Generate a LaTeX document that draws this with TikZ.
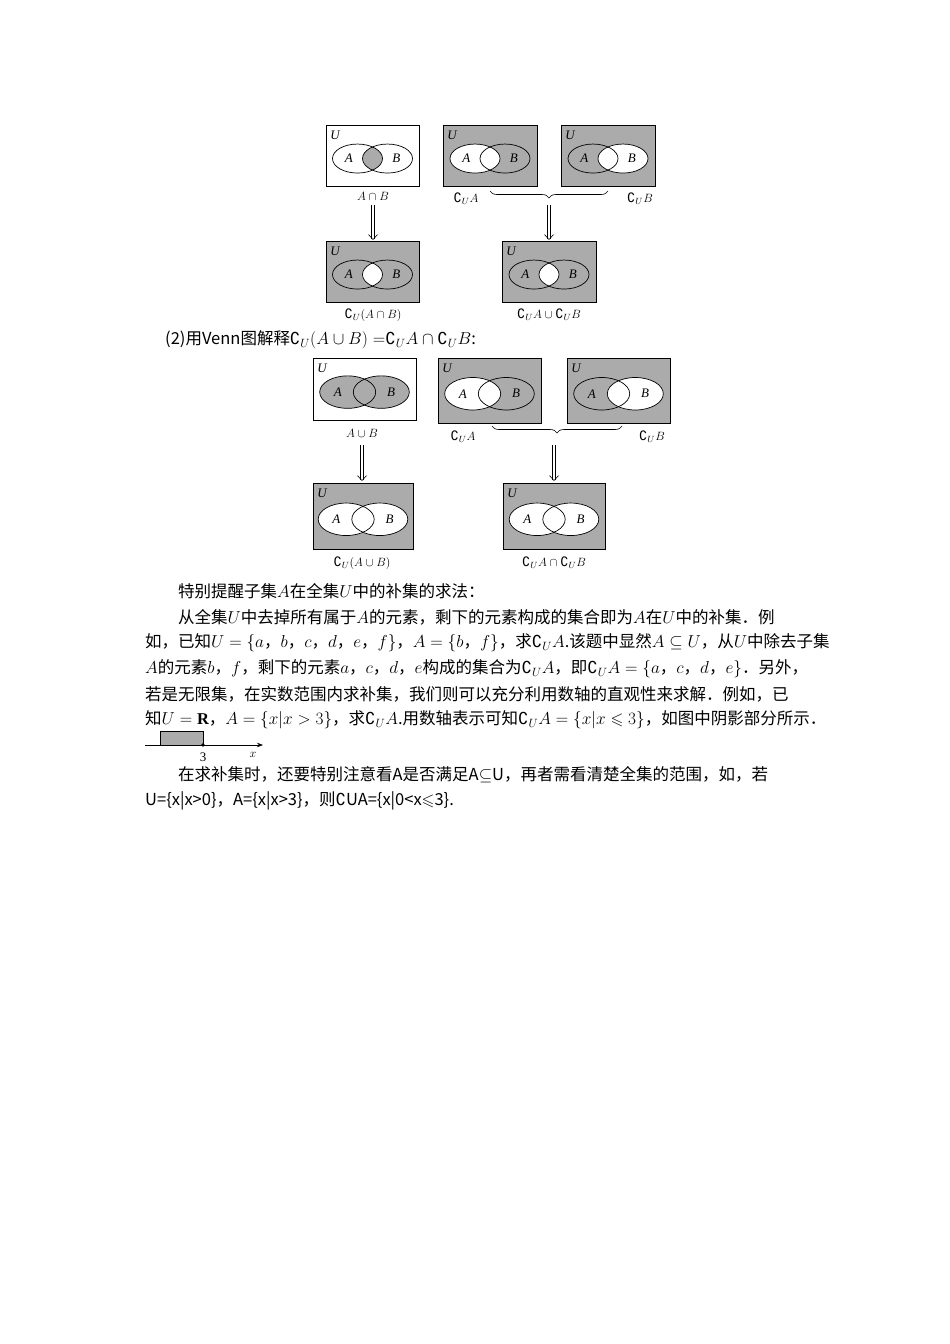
\documentclass[tikz,border=0pt]{standalone}
\usepackage{amssymb}
\usepackage{fontspec}
\setmainfont{Liberation Serif}
\newfontfamily\cjk{Noto Sans CJK SC}
\newfontfamily\djv{DejaVu Sans}
\usetikzlibrary{decorations.pathreplacing,arrows.meta}
\newcommand\cu{{\djv ∁}}
\newcommand\VB[9]{%
 \pgfmathsetmacro\xa{#1}\pgfmathsetmacro\ya{#2}\pgfmathsetmacro\ww{#3}\pgfmathsetmacro\hh{#4}
 \pgfmathsetmacro\rr{#9}\pgfmathsetmacro\ry{0.58*#9}\pgfmathsetmacro\dd{0.6*#9}
 \pgfmathsetmacro\cx{\xa+\ww/2}\pgfmathsetmacro\cy{\ya+0.55*\hh}
 \fill[#5] (\xa,\ya) rectangle ++(\ww,\hh);
 \draw[line width=0.8pt] (\xa,\ya) rectangle ++(\ww,\hh);
 \fill[#6] (\cx-\dd,\cy) ellipse [x radius=\rr pt,y radius=\ry pt];
 \fill[#7] (\cx+\dd,\cy) ellipse [x radius=\rr pt,y radius=\ry pt];
 \begin{scope}\clip (\cx-\dd,\cy) ellipse [x radius=\rr pt,y radius=\ry pt];
 \fill[#8] (\cx+\dd,\cy) ellipse [x radius=\rr pt,y radius=\ry pt];\end{scope}
 \draw[line width=0.7pt] (\cx-\dd,\cy) ellipse [x radius=\rr pt,y radius=\ry pt];
 \draw[line width=0.7pt] (\cx+\dd,\cy) ellipse [x radius=\rr pt,y radius=\ry pt];
 \node[font=\itshape\fontsize{13}{13}\selectfont] at (\xa+9,\ya+10) {U};
 \node[font=\itshape\fontsize{13}{13}\selectfont] at (\cx-\dd-0.35*\rr,\cy) {A};
 \node[font=\itshape\fontsize{13}{13}\selectfont] at (\cx+\dd+0.35*\rr,\cy) {B};
}
\tikzset{lab/.style={font=\fontsize{13}{13}\selectfont},
 txt/.style={anchor=west,inner sep=0pt,font=\cjk\fontsize{16.5}{16.5}\selectfont},
 dbl/.style={double,double distance=2.5pt,line width=0.6pt,-{Straight Barb[length=5pt,width=9pt]}},
 brc/.style={decorate,decoration={brace,amplitude=7pt,mirror},line width=0.6pt}}
\colorlet{sh}{black!33}
\begin{document}
\begin{tikzpicture}[x=1pt,y=-1pt]
\useasboundingbox (0,0) rectangle (950,1344);
\fill[white] (0,0) rectangle (950,1344);
% first set
\VB{326}{125}{93}{61}{white}{white}{white}{sh}{25}
\VB{443}{125}{94}{61}{sh}{white}{sh}{white}{25}
\VB{561}{125}{94}{61}{sh}{sh}{white}{white}{25}
\VB{326}{241}{93}{61}{sh}{sh}{sh}{white}{25}
\VB{502}{241}{94}{61}{sh}{sh}{sh}{white}{25}
\node[lab] (l1) at (373,196) {$A\cap B$};
\node[lab] (l2) at (466,199) {\cu$_U A$};
\node[lab] (l3) at (640,199) {\cu$_U B$};
\coordinate (b1) at (490,191); \coordinate (b2) at (608,191);
\draw[brc] (b1) -- (b2);
\coordinate (a1) at (373,205); \coordinate (a2) at (373,240);
\coordinate (a3) at (549,205); \coordinate (a4) at (549,240);
\draw[dbl] (a1) -- (a2); \draw[dbl] (a3) -- (a4);
\node[lab] (l4) at (373,315) {\cu$_U(A\cap B)$};
\node[lab] (l5) at (549,315) {\cu$_U A\cup{}$\cu$_U B$};
\node[txt] (t0) at (165,340) {(2)用Venn图解释\cu$_U(A\cup B)=$\cu$_U A\cap{}$\cu$_U B$:};
% second set
\VB{313}{358}{103}{62}{white}{sh}{sh}{sh}{28}
\VB{438}{358}{103}{65}{sh}{white}{sh}{white}{28}
\VB{567}{358}{103}{65}{sh}{sh}{white}{white}{28}
\VB{313}{483}{100}{66}{sh}{white}{white}{white}{28}
\VB{503}{483}{102}{66}{sh}{white}{white}{white}{28}
\node[lab] (m1) at (362,433) {$A\cup B$};
\node[lab] (m2) at (463,437) {\cu$_U A$};
\node[lab] (m3) at (652,437) {\cu$_U B$};
\coordinate (c1) at (492,426); \coordinate (c2) at (622,426);
\draw[brc] (c1) -- (c2);
\coordinate (d1) at (362,445); \coordinate (d2) at (362,481);
\coordinate (d3) at (554,445); \coordinate (d4) at (554,481);
\draw[dbl] (d1) -- (d2); \draw[dbl] (d3) -- (d4);
\node[lab] (m4) at (362,563) {\cu$_U(A\cup B)$};
\node[lab] (m5) at (554,563) {\cu$_U A\cap{}$\cu$_U B$};
% text
\node[txt] (p1) at (178,591) {特别提醒子集$A$在全集$U$中的补集的求法：};
\node[txt] (p2) at (178,617) {从全集$U$中去掉所有属于$A$的元素，剩下的元素构成的集合即为$A$在$U$中的补集．例};
\node[txt] (p3) at (145,643) {如，已知$U=\{a$，$b$，$c$，$d$，$e$，$f\}$，$A=\{b$，$f\}$，求\cu$_U A$.该题中显然$A\subseteq U$，从$U$中除去子集};
\node[txt] (p4) at (145,669) {$A$的元素$b$，$f$，剩下的元素$a$，$c$，$d$，$e$构成的集合为\cu$_U A$，即\cu$_U A=\{a$，$c$，$d$，$e\}$．另外，};
\node[txt] (p5) at (145,694) {若是无限集，在实数范围内求补集，我们则可以充分利用数轴的直观性来求解．例如，已};
\node[txt] (p6) at (145,720) {知$U=\mathbf{R}$，$A=\{x|x>3\}$，求\cu$_U A$.用数轴表示可知\cu$_U A=\{x|x\leqslant3\}$，如图中阴影部分所示．};
\node[txt] (p7) at (178,775) {在求补集时，还要特别注意看A是否满足A$\subseteq$U，再者需看清楚全集的范围，如，若};
\node[txt] (p8) at (145,801) {U=\{x|x>0\}，A=\{x|x>3\}，则\cu UA=\{x|0<x$\leqslant$3\}.};
% number line
\fill[sh] (160,731) rectangle (203,745);
\draw[line width=0.6pt] (160,745) -- (160,731) -- (203,731) -- (203,745);
\coordinate (n0) at (145,745); \coordinate (n1) at (263,745);
\draw[line width=0.7pt,-{Stealth[length=6pt]}] (n0) -- (n1);
\fill (203,745) circle (1.8pt);
\node[lab] (n3) at (203,757) {3};
\node[lab] (nx) at (253,755) {$x$};
\end{tikzpicture}
\end{document}
